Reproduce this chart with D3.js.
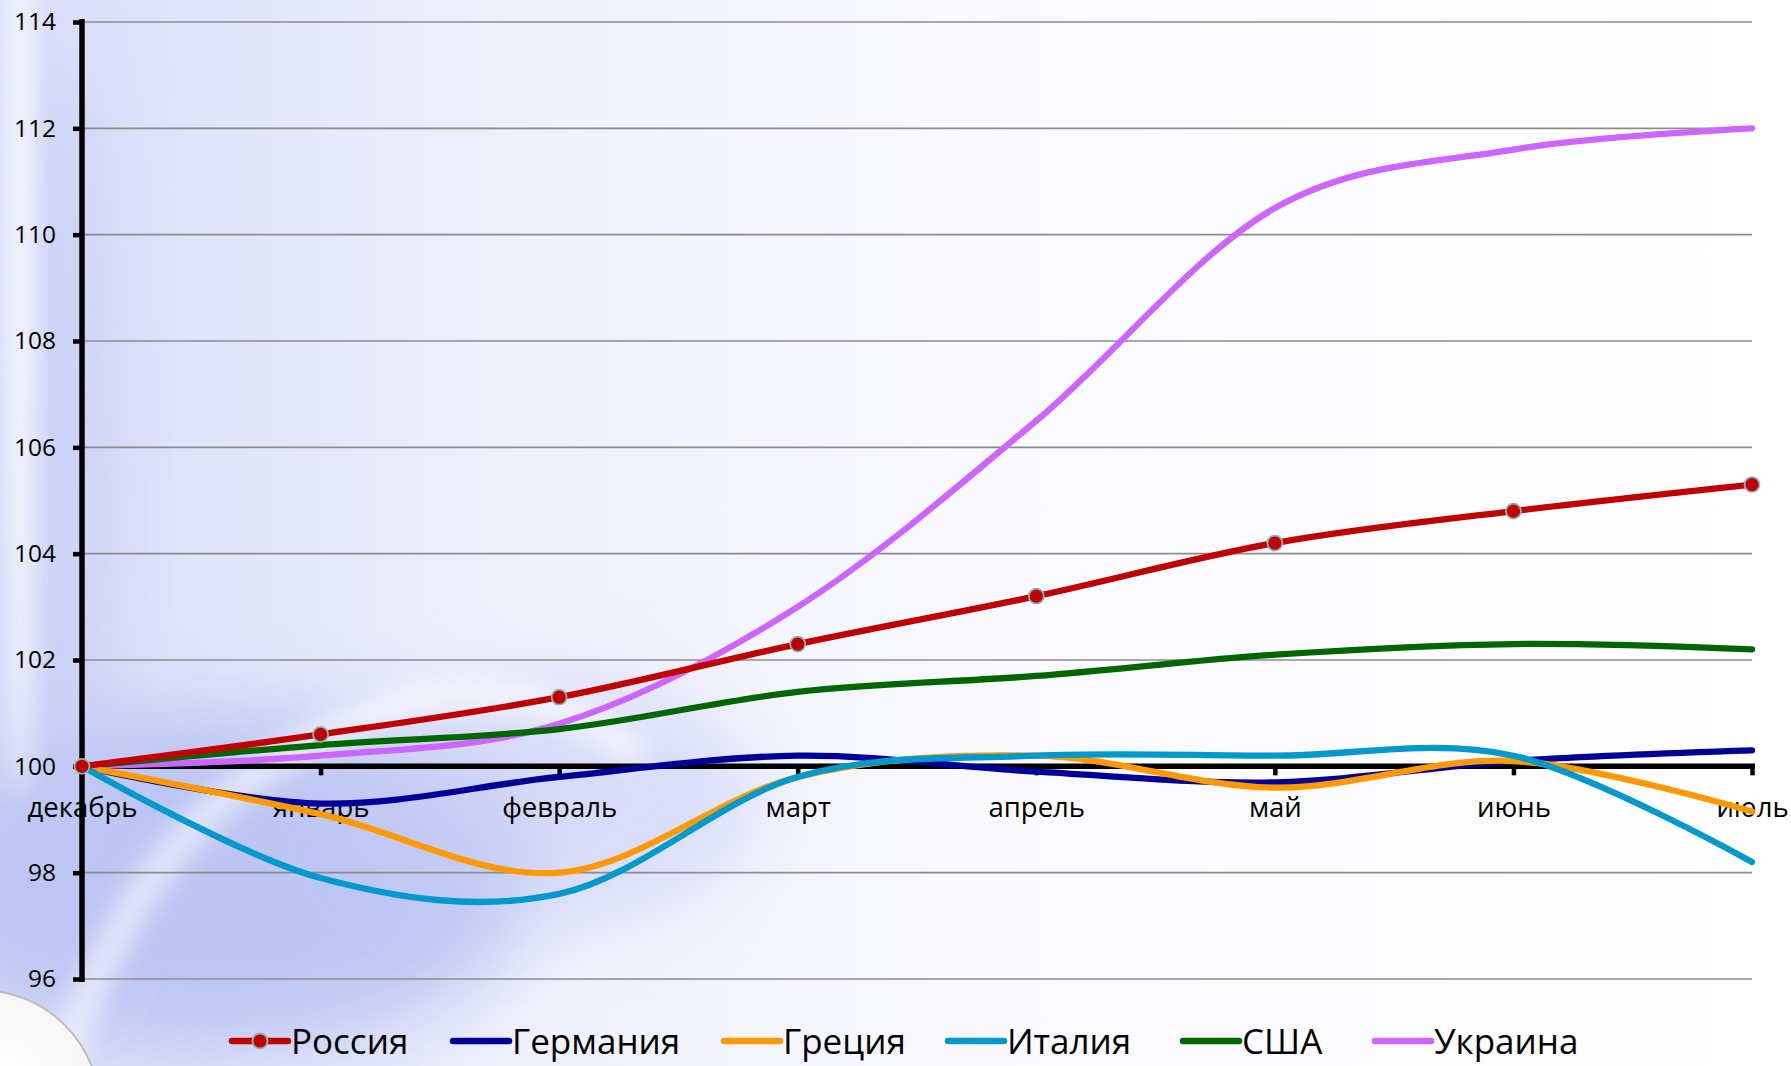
<!DOCTYPE html>
<html><head><meta charset="utf-8">
<script src="https://cdn.jsdelivr.net/npm/d3@7"></script>
<style>html,body{margin:0;padding:0;background:#fff;overflow:hidden}</style>
</head><body>
<svg id="c" width="1791" height="1066"></svg>
<script>
const months = ["декабрь","январь","февраль","март","апрель","май","июнь","июль"];
const yTicks = [96,98,100,102,104,106,108,110,112,114];
const seriesNames = ["Россия","Германия","Греция","Италия","США","Украина"];
const russia  = [100,100.6,101.3,102.3,103.2,104.2,104.8,105.3];
const germany = [100,99.3,99.8,100.2,99.9,99.7,100.1,100.3];
const greece  = [100,99.1,98.0,99.8,100.2,99.6,100.1,99.15];
const italy   = [100,97.9,97.6,99.8,100.2,100.2,100.2,98.2];
const usa     = [100,100.4,100.7,101.4,101.7,102.1,102.3,102.2];
const ukraine = [100,100.2,100.8,103.0,106.5,110.5,111.6,112.0];
const colors = ["#C00000","#000099","#FF9900","#0099CC","#006600","#CC66FF"];

const series = [russia,germany,greece,italy,usa,ukraine];
const svg = d3.select("#c");
const defs = svg.append("defs");

// background
const bg = defs.append("linearGradient").attr("id","bgg").attr("x1","0").attr("x2","1").attr("y1","0").attr("y2","0");
bg.append("stop").attr("offset","0").attr("stop-color","#d8ddf8");
bg.append("stop").attr("offset","0.3").attr("stop-color","#eff1fc");
bg.append("stop").attr("offset","0.6").attr("stop-color","#fbfbff");
bg.append("stop").attr("offset","1").attr("stop-color","#ffffff");
svg.append("rect").attr("width",1791).attr("height",1066).attr("fill","url(#bgg)");
const blur = defs.append("filter").attr("id","bl").attr("x","-50%").attr("y","-50%").attr("width","200%").attr("height","200%");
blur.append("feGaussianBlur").attr("stdDeviation",40);
const blur2 = defs.append("filter").attr("id","bl2").attr("x","-50%").attr("y","-50%").attr("width","200%").attr("height","200%");
blur2.append("feGaussianBlur").attr("stdDeviation",12);
const bgG = svg.append("g");
bgG.append("ellipse").attr("cx",230).attr("cy",880).attr("rx",300).attr("ry",170).attr("fill","#b4bef2").attr("opacity",0.8).attr("filter","url(#bl)");
bgG.append("ellipse").attr("cx",60).attr("cy",520).attr("rx",55).attr("ry",480).attr("fill","#c2c9f4").attr("opacity",0.6).attr("filter","url(#bl)");
bgG.append("ellipse").attr("cx",560).attr("cy",800).attr("rx",200).attr("ry",120).attr("fill","#c8cef6").attr("opacity",0.6).attr("filter","url(#bl)");
bgG.append("ellipse").attr("cx",20).attr("cy",300).attr("rx",14).attr("ry",500).attr("fill","#ffffff").attr("opacity",0.8).attr("filter","url(#bl2)");
bgG.append("path").attr("d","M60,1066 C120,900 200,760 420,700 C520,680 600,720 640,760").attr("fill","none").attr("stroke","#ffffff").attr("stroke-width",30).attr("opacity",0.6).attr("filter","url(#bl2)");
// sphere bottom-left
const sph = defs.append("radialGradient").attr("id","sph").attr("cx","0.6").attr("cy","0.35").attr("r","0.7");
sph.append("stop").attr("offset","0").attr("stop-color","#ffffff");
sph.append("stop").attr("offset","0.7").attr("stop-color","#f2f2f2");
sph.append("stop").attr("offset","1").attr("stop-color","#c8c8c8");
svg.append("circle").attr("cx",-20).attr("cy",1110).attr("r",120).attr("fill","url(#sph)").attr("stroke","#bdbdbd").attr("stroke-width",2);

const x = d3.scalePoint().domain(months).range([82,1752]);
const y = d3.scaleLinear().domain([96,114]).range([979,22]);

// gridlines
svg.append("g").selectAll("line").data(yTicks).join("line")
  .attr("x1",82).attr("x2",1752).attr("y1",d=>y(d)).attr("y2",d=>y(d))
  .attr("stroke","#8c8c8c").attr("stroke-width",1.6);

// y axis
const yAxis = d3.axisLeft(y).tickValues(yTicks).tickSize(9).tickPadding(17).tickFormat(d3.format("d"));
const ya = svg.append("g").attr("transform","translate(82,0)").call(yAxis);
ya.select(".domain").attr("stroke","#000").attr("stroke-width",5.5).attr("d","M0,19V982");
ya.selectAll(".tick line").attr("stroke","#000").attr("stroke-width",4.5);
ya.selectAll(".tick text").attr("font-family","'Open Sans'").attr("font-size",24.5).attr("fill","#000");

// x axis at 100
const xAxis = d3.axisBottom(x).tickSize(9).tickPadding(22);
const xa = svg.append("g").attr("transform",`translate(0,${y(100)})`).call(xAxis);
xa.select(".domain").attr("stroke","#000").attr("stroke-width",5.5).attr("d","M82,0H1755");
xa.selectAll(".tick line").attr("stroke","#000").attr("stroke-width",4.5);
xa.selectAll(".tick text").attr("font-family","'Open Sans'").attr("font-size",27.5).attr("fill","#000");

// lines
const line = d3.line().x((d,i)=>x(months[i])).y(d=>y(d)).curve(d3.curveCatmullRom.alpha(0));
const order = [5,4,1,2,3,0];
svg.append("g").selectAll("path").data(order).join("path")
  .attr("d",k=>line(series[k])).attr("fill","none").attr("stroke",k=>colors[k])
  .attr("stroke-width",6.3).attr("stroke-linecap","round").attr("stroke-linejoin","round");
// markers for Россия
svg.append("g").selectAll("circle").data(russia).join("circle")
  .attr("cx",(d,i)=>x(months[i])).attr("cy",d=>y(d)).attr("r",7.5)
  .attr("fill","#C00000").attr("stroke","#8fb3b3").attr("stroke-width",1.8);

// legend
const legX = [232,453,724,948,1183,1375];
const lg = svg.append("g").attr("transform","translate(0,1041)");
const items = lg.selectAll("g").data(seriesNames).join("g").attr("transform",(d,i)=>`translate(${legX[i]},0)`);
items.append("line").attr("x1",0).attr("x2",56).attr("y1",0).attr("y2",0)
  .attr("stroke",(d,i)=>colors[i]).attr("stroke-width",6.5).attr("stroke-linecap","round");
items.filter((d,i)=>i===0).append("circle").attr("cx",28).attr("cy",0).attr("r",7.5)
  .attr("fill","#C00000").attr("stroke","#8fb3b3").attr("stroke-width",1.8);
items.append("text").attr("x",59).attr("y",0).attr("dy","0.36em").text(d=>d)
  .attr("font-family","'Open Sans'").attr("font-size",35).attr("fill","#000");
</script>
</body></html>
